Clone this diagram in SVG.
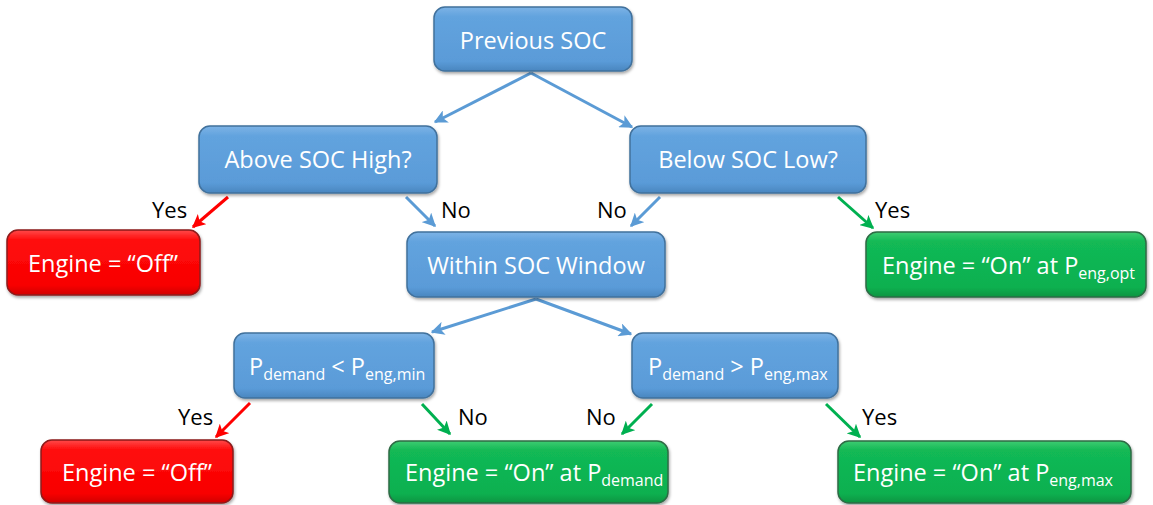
<svg xmlns="http://www.w3.org/2000/svg" width="1153" height="505" viewBox="0 0 1153 505">
  <defs>
    <linearGradient id="gBlue" x1="0" y1="0" x2="0" y2="1">
      <stop offset="0" stop-color="#7db3e6"/>
      <stop offset="0.15" stop-color="#62a3de"/>
      <stop offset="0.85" stop-color="#5a9bd8"/>
      <stop offset="1" stop-color="#4a86bf"/>
    </linearGradient>
    <linearGradient id="gRed" x1="0" y1="0" x2="0" y2="1">
      <stop offset="0" stop-color="#ff4a4a"/>
      <stop offset="0.15" stop-color="#ff0d0d"/>
      <stop offset="0.85" stop-color="#f80000"/>
      <stop offset="1" stop-color="#d00000"/>
    </linearGradient>
    <linearGradient id="gGreen" x1="0" y1="0" x2="0" y2="1">
      <stop offset="0" stop-color="#3fcc72"/>
      <stop offset="0.15" stop-color="#12b955"/>
      <stop offset="0.85" stop-color="#0db050"/>
      <stop offset="1" stop-color="#079440"/>
    </linearGradient>
    <filter id="shadow" x="-10%" y="-20%" width="120%" height="150%">
      <feDropShadow dx="1" dy="2" stdDeviation="1.5" flood-color="#000" flood-opacity="0.35"/>
    </filter>
    <marker id="aBlue" viewBox="0 0 10 10" refX="9" refY="5" markerWidth="4.5" markerHeight="4.5" orient="auto" markerUnits="strokeWidth">
      <path d="M0,0 L10,5 L0,10 L2.5,5 z" fill="#5b9bd5"/>
    </marker>
    <marker id="aRed" viewBox="0 0 10 10" refX="9" refY="5" markerWidth="4.5" markerHeight="4.5" orient="auto" markerUnits="strokeWidth">
      <path d="M0,0 L10,5 L0,10 L2.5,5 z" fill="#ff0000"/>
    </marker>
    <marker id="aGreen" viewBox="0 0 10 10" refX="9" refY="5" markerWidth="4.5" markerHeight="4.5" orient="auto" markerUnits="strokeWidth">
      <path d="M0,0 L10,5 L0,10 L2.5,5 z" fill="#00b050"/>
    </marker>
  </defs>
  <style>
    .box { stroke-width: 1.5; filter: url(#shadow); }
    .blue { fill: url(#gBlue); stroke: #41719c; }
    .red { fill: url(#gRed); stroke: #8c1a1a; }
    .green { fill: url(#gGreen); stroke: #2f6b45; }
    .t { font-family: "Open Sans", "Noto Sans", sans-serif; font-size: 23.5px; fill: #ffffff; }
    .c { text-anchor: middle; }
    .sub { font-size: 16px; }
    .lbl { font-family: "Open Sans", "Noto Sans", sans-serif; font-size: 22px; fill: #000000; }
    .cb { stroke: #5b9bd5; stroke-width: 3; fill: none; marker-end: url(#aBlue); }
    .cr { stroke: #ff0000; stroke-width: 3; fill: none; marker-end: url(#aRed); }
    .cg { stroke: #00b050; stroke-width: 3; fill: none; marker-end: url(#aGreen); }
  </style>

  <g id="connectors">
    <line class="cb" x1="531" y1="73" x2="435" y2="122"/>
    <line class="cb" x1="531" y1="73" x2="632" y2="127"/>
    <line class="cr" x1="228" y1="197" x2="193" y2="227"/>
    <line class="cb" x1="406" y1="197" x2="435" y2="226"/>
    <line class="cb" x1="660" y1="197" x2="631" y2="226"/>
    <line class="cg" x1="838" y1="197" x2="873" y2="228"/>
    <line class="cb" x1="536" y1="299" x2="432" y2="332"/>
    <line class="cb" x1="536" y1="299" x2="631" y2="334"/>
    <line class="cr" x1="250" y1="403" x2="216" y2="437"/>
    <line class="cg" x1="422" y1="404" x2="450" y2="434"/>
    <line class="cg" x1="652" y1="404" x2="622" y2="434"/>
    <line class="cg" x1="826" y1="404" x2="860" y2="437"/>
    <text class="lbl" x="152" y="218">Yes</text>
    <text class="lbl" x="441" y="218">No</text>
    <text class="lbl" x="597" y="218">No</text>
    <text class="lbl" x="875" y="218">Yes</text>
    <text class="lbl" x="178" y="425">Yes</text>
    <text class="lbl" x="458" y="425">No</text>
    <text class="lbl" x="586" y="425">No</text>
    <text class="lbl" x="862" y="425">Yes</text>
  </g>

  <g id="previous-soc">
    <rect class="box blue" x="434" y="7" width="198" height="64" rx="11"/>
    <text class="t c" x="533" y="49">Previous SOC</text>
  </g>
  <g id="above-soc-high">
    <rect class="box blue" x="199" y="126" width="238" height="67" rx="11"/>
    <text class="t c" x="318" y="168">Above SOC High?</text>
  </g>
  <g id="below-soc-low">
    <rect class="box blue" x="630" y="126" width="236" height="67" rx="11"/>
    <text class="t c" x="748" y="168">Below SOC Low?</text>
  </g>
  <g id="engine-off-1">
    <rect class="box red" x="7" y="230" width="193" height="65" rx="11"/>
    <text class="t c" x="103" y="272">Engine = “Off”</text>
  </g>
  <g id="within-soc-window">
    <rect class="box blue" x="407" y="232" width="258" height="65" rx="11"/>
    <text class="t c" x="536" y="274">Within SOC Window</text>
  </g>
  <g id="engine-on-opt">
    <rect class="box green" x="866" y="232" width="280" height="65" rx="11"/>
    <text class="t" x="882" y="274">Engine = “On” at P<tspan class="sub" dy="5">eng,opt</tspan></text>
  </g>
  <g id="pdemand-lt-min">
    <rect class="box blue" x="234" y="333" width="200" height="65" rx="11"/>
    <text class="t" x="249" y="375">P<tspan class="sub" dy="5">demand</tspan><tspan dy="-5"> &lt; P</tspan><tspan class="sub" dy="5">eng,min</tspan></text>
  </g>
  <g id="pdemand-gt-max">
    <rect class="box blue" x="632" y="333" width="206" height="65" rx="11"/>
    <text class="t" x="648" y="375">P<tspan class="sub" dy="5">demand</tspan><tspan dy="-5"> &gt; P</tspan><tspan class="sub" dy="5">eng,max</tspan></text>
  </g>
  <g id="engine-off-2">
    <rect class="box red" x="41" y="440" width="192" height="63" rx="11"/>
    <text class="t c" x="137" y="481">Engine = “Off”</text>
  </g>
  <g id="engine-on-demand">
    <rect class="box green" x="389" y="441" width="279" height="62" rx="11"/>
    <text class="t" x="405" y="481">Engine = “On” at P<tspan class="sub" dy="5">demand</tspan></text>
  </g>
  <g id="engine-on-max">
    <rect class="box green" x="838" y="441" width="293" height="62" rx="11"/>
    <text class="t" x="853" y="481">Engine = “On” at P<tspan class="sub" dy="5">eng,max</tspan></text>
  </g>
</svg>
